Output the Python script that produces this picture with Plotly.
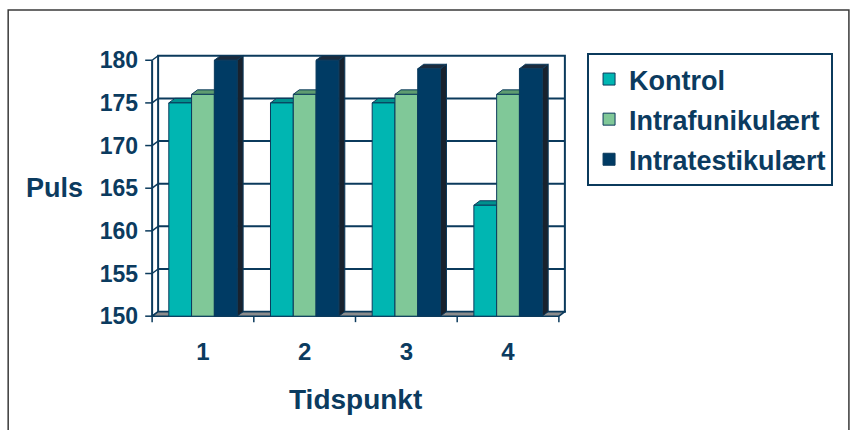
import plotly.graph_objects as go

# ---------------- data ----------------
categories = [1, 2, 3, 4]
category_labels = ["1", "2", "3", "4"]
series_names = ["Kontrol", "Intrafunikulært", "Intratestikulært"]
kontrol = [175, 175, 175, 163]
intrafunikulaert = [176, 176, 176, 176]
intratestikulaert = [180, 180, 179, 179]
y_ticks = [150, 155, 160, 165, 170, 175, 180]
y_title = "Puls"
x_title = "Tidspunkt"

series_values = [kontrol, intrafunikulaert, intratestikulaert]

# ---------------- style ----------------
NAVY = "#0B3A5C"
TEXT = "#0B3B5F"
FONT = "Liberation Sans, Arial, sans-serif"
front_colors = ["#00B6B2", "#80C898", "#003B64"]
top_colors = ["#00918E", "#5E9C70", "#1B2B3D"]
side_colors = ["#007A77", "#4F8660", "#18222E"]

DX = 0.059   # depth offset along x (data units)
DY = 0.53    # depth offset along y (data units)
BAR_W = 0.224
offsets = [-0.336, -0.112, 0.112]
YMIN, YMAX = y_ticks[0], y_ticks[-1]
XL, XR = categories[0] - 0.5, categories[-1] + 0.5


def path(pts):
    return "M " + " L ".join(f"{x},{y}" for x, y in pts) + " Z"


shapes = []
# back wall
shapes.append(dict(type="rect", xref="x", yref="y", layer="below",
                   x0=XL + DX, x1=XR + DX, y0=YMIN + DY, y1=YMAX + DY,
                   fillcolor="white", line=dict(color=NAVY, width=2)))
# back wall gridlines
for t in y_ticks[1:-1]:
    shapes.append(dict(type="line", xref="x", yref="y", layer="below",
                       x0=XL + DX, x1=XR + DX, y0=t + DY, y1=t + DY,
                       line=dict(color=NAVY, width=2)))
# side wall diagonals
for t in y_ticks:
    shapes.append(dict(type="line", xref="x", yref="y", layer="below",
                       x0=XL, x1=XL + DX, y0=t, y1=t + DY,
                       line=dict(color=NAVY, width=1.5)))
# floor
shapes.append(dict(type="path", xref="x", yref="y", layer="below",
                   path=path([(XL, YMIN), (XR, YMIN), (XR + DX, YMIN + DY), (XL + DX, YMIN + DY)]),
                   fillcolor="#8C8C8C", line=dict(color=NAVY, width=1.5)))
# front value axis
shapes.append(dict(type="line", xref="x", yref="y", layer="below",
                   x0=XL, x1=XL, y0=YMIN, y1=YMAX,
                   line=dict(color=NAVY, width=2)))
# value axis tick marks
for t in y_ticks:
    shapes.append(dict(type="line", xref="x", yref="y", layer="below",
                       x0=XL - 0.068, x1=XL, y0=t, y1=t,
                       line=dict(color=NAVY, width=1.5)))
# category boundary tick marks
for k in range(len(categories) + 1):
    b = XL + k
    shapes.append(dict(type="line", xref="x", yref="y", layer="below",
                       x0=b, x1=b, y0=YMIN, y1=YMIN - 0.7,
                       line=dict(color=NAVY, width=1.5)))
# bar depth faces (side then top)
for i, vals in enumerate(series_values):
    for c, v in zip(categories, vals):
        x0 = c + offsets[i]
        x1 = x0 + BAR_W
        shapes.append(dict(type="path", xref="x", yref="y", layer="below",
                           path=path([(x1, YMIN), (x1 + DX, YMIN + DY), (x1 + DX, v + DY), (x1, v)]),
                           fillcolor=side_colors[i], line=dict(color=NAVY, width=1)))
        shapes.append(dict(type="path", xref="x", yref="y", layer="below",
                           path=path([(x0, v), (x1, v), (x1 + DX, v + DY), (x0 + DX, v + DY)]),
                           fillcolor=top_colors[i], line=dict(color=NAVY, width=1)))

# outer chart border
shapes.append(dict(type="rect", xref="paper", yref="paper", layer="above",
                   x0=-0.325, x1=1.672, y0=-0.45, y1=1.159,
                   fillcolor="rgba(0,0,0,0)", line=dict(color="#3A3A3A", width=1.5)))

fig = go.Figure()
for i, name in enumerate(series_names):
    fig.add_trace(go.Bar(
        x=categories,
        y=[v - YMIN for v in series_values[i]],
        base=YMIN,
        name=name,
        legendgroup=name,
        width=BAR_W,
        offset=offsets[i],
        marker=dict(color=front_colors[i], line=dict(color=NAVY, width=1)),
    ))

fig.update_layout(
    width=853, height=430,
    margin=dict(l=145, r=287, t=53, b=107),
    paper_bgcolor="white", plot_bgcolor="rgba(0,0,0,0)",
    barmode="overlay",
    shapes=shapes,
    showlegend=True,
    legend=dict(x=1.05, y=1.0, xanchor="left", yanchor="top",
                font=dict(family=FONT, size=27, color=TEXT, weight="bold"),
                bordercolor=NAVY, borderwidth=2, bgcolor="white",
                tracegroupgap=2, traceorder="grouped", itemwidth=30),
    font=dict(family=FONT, color=TEXT),
    annotations=[
        dict(text=y_title, xref="paper", yref="paper", x=-0.216, y=0.5,
             xanchor="center", yanchor="middle", showarrow=False,
             font=dict(family=FONT, size=27, color=TEXT, weight="bold")),
        dict(text=x_title, xref="x", yref="paper", x=(categories[0] + categories[-1]) / 2, y=-0.285,
             xanchor="center", yanchor="middle", showarrow=False,
             font=dict(family=FONT, size=28, color=TEXT, weight="bold")),
    ],
)
fig.update_xaxes(range=[XL - 0.07, XR + 0.07], tickvals=categories, ticktext=category_labels,
                 ticks="", showgrid=False, zeroline=False, showline=False,
                 ticklabelstandoff=12,
                 tickfont=dict(family=FONT, size=24, color=TEXT, weight="bold"))
fig.update_yaxes(range=[YMIN - 0.8, YMAX + 0.85], tickvals=y_ticks,
                 ticks="", showgrid=False, zeroline=False, showline=False,
                 ticklabelstandoff=6,
                 tickfont=dict(family=FONT, size=23, color=TEXT, weight="bold"))

fig.write_html("out.html")
